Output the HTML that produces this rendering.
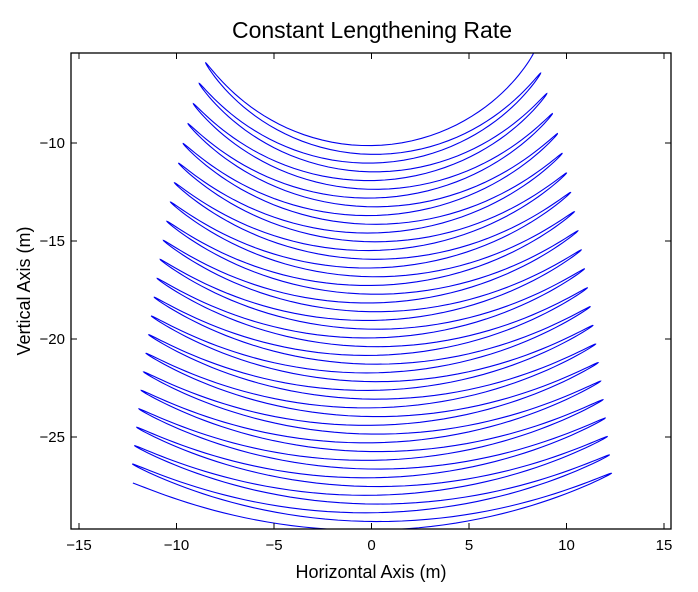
<!DOCTYPE html>
<html><head><meta charset="utf-8"><style>
body{margin:0;background:#fff;}
svg{display:block;font-family:"Liberation Sans",Arial,sans-serif;}
</style></head><body>
<svg id="s" width="698" height="592" viewBox="0 0 698 592">
<rect width="698" height="592" fill="#fff"/>
<defs><clipPath id="c"><rect x="71" y="53" width="600" height="476"/></clipPath></defs>
<path id="p" d="" fill="none" stroke="#0000ee" stroke-width="1.1" clip-path="url(#c)"/>
<rect x="71" y="53" width="600" height="476" fill="none" stroke="#000" stroke-width="1.3"/>
<g id="t" stroke="#000" stroke-width="1"></g>
<g font-size="15" fill="#000" id="lab"></g>
<text x="372" y="38" font-size="23" text-anchor="middle">Constant Lengthening Rate</text>
<text x="371" y="578" font-size="18" text-anchor="middle">Horizontal Axis (m)</text>
<text transform="translate(30,291) rotate(-90)" font-size="18" text-anchor="middle">Vertical Axis (m)</text>
</svg>
<script>
var X=function(x){return 371.5+19.5*x;},Y=function(y){return 143+(-10-y)*19.6;};
var d="",N=45*60;
for(var i=0;i<=N;i++){var s=i/60*0.999;var r=9.91+0.446*s;var A=55.2*Math.pow(r/10.35,-0.77)*Math.PI/180;
var th=A*Math.cos(Math.PI*s);var x=r*Math.sin(th),y=-r*Math.cos(th);
d+=(i?"L":"M")+X(x).toFixed(2)+" "+Y(y).toFixed(2);}
document.getElementById("p").setAttribute("d",d);
var t="",l="";
for(var v=-15;v<=15;v+=5){var px=X(v);t+='<line x1="'+px+'" y1="529" x2="'+px+'" y2="523"/><line x1="'+px+'" y1="53" x2="'+px+'" y2="59"/>';
l+='<text x="'+px+'" y="550" text-anchor="middle">'+(v<0?"\u2212"+(-v):v)+'</text>';}
for(var v=-10;v>=-25;v-=5){var py=Y(v);t+='<line x1="71" y1="'+py+'" x2="77" y2="'+py+'"/><line x1="671" y1="'+py+'" x2="665" y2="'+py+'"/>';
l+='<text x="65" y="'+(py+5)+'" text-anchor="end">\u2212'+(-v)+'</text>';}
document.getElementById("t").innerHTML=t;document.getElementById("lab").innerHTML=l;
</script>
</body></html>
